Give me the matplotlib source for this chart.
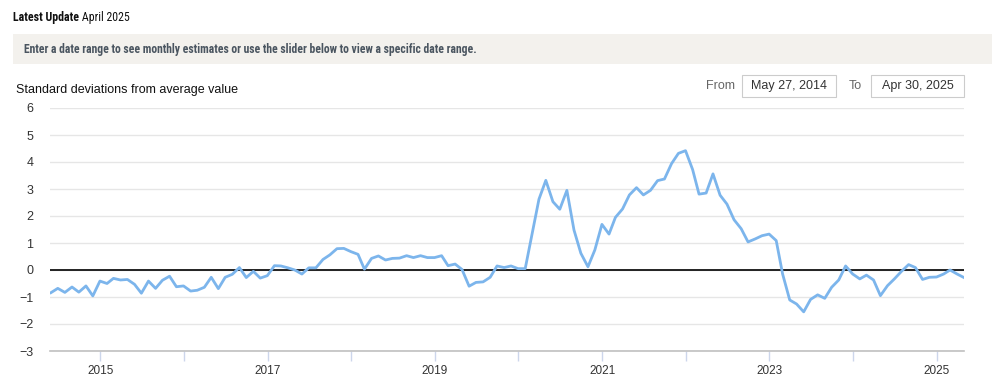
import matplotlib
matplotlib.use("Agg")
import matplotlib.pyplot as plt
from matplotlib.patches import Rectangle
from matplotlib import font_manager
import pandas as pd

# ---------------- data ----------------
dates = pd.date_range("2014-05-31", "2025-04-30", freq="ME")
values = [
    -0.84, -0.68, -0.83, -0.63, -0.82, -0.59, -0.96, -0.41, -0.50, -0.31,
    -0.37, -0.35, -0.53, -0.86, -0.41, -0.68, -0.38, -0.23, -0.62, -0.59,
    -0.78, -0.75, -0.64, -0.27, -0.69, -0.27, -0.16, 0.09, -0.28, -0.05,
    -0.30, -0.21, 0.16, 0.15, 0.08, 0.00, -0.15, 0.08, 0.08, 0.39,
    0.56, 0.79, 0.80, 0.68, 0.58, 0.03, 0.43, 0.52, 0.37, 0.43,
    0.44, 0.53, 0.46, 0.53, 0.46, 0.46, 0.53, 0.16, 0.22, 0.02,
    -0.60, -0.46, -0.44, -0.27, 0.15, 0.09, 0.15, 0.05, 0.05, 1.30,
    2.62, 3.32, 2.53, 2.25, 2.95, 1.48, 0.62, 0.12, 0.74, 1.69,
    1.33, 1.95, 2.26, 2.78, 3.05, 2.78, 2.95, 3.31, 3.37, 3.94,
    4.32, 4.42, 3.72, 2.81, 2.85, 3.56, 2.77, 2.44, 1.86, 1.53,
    1.04, 1.15, 1.27, 1.33, 1.09, -0.15, -1.11, -1.26, -1.55, -1.09,
    -0.92, -1.05, -0.64, -0.37, 0.15, -0.15, -0.33, -0.19, -0.37, -0.95,
    -0.58, -0.33, -0.05, 0.20, 0.09, -0.35, -0.27, -0.26, -0.15, 0.00,
    -0.15, -0.28,
]
y_ticks = [-3, -2, -1, 0, 1, 2, 3, 4, 5, 6]
x_tick_years = list(range(2015, 2026))
x_label_years = [2015, 2017, 2019, 2021, 2023, 2025]
range_from = "May 27, 2014"
range_to = "Apr 30, 2025"

# ---------------- fonts ----------------
avail = {f.name for f in font_manager.fontManager.ttflist}
def pick(cands):
    for c in cands:
        if c in avail:
            return c
    return "DejaVu Sans"
SANS = pick(["Liberation Sans", "Arial", "DejaVu Sans"])
COND = pick(["Roboto Condensed", "Liberation Sans Narrow", "Open Sans Condensed", "Roboto", "Liberation Sans"])
plt.rcParams["font.family"] = [SANS, "DejaVu Sans"]

W, H = 992, 384
fig = plt.figure(figsize=(W / 100, H / 100), dpi=100)

def fx(x):
    return x / W
def fy(y):
    return 1 - y / H

# axes
ax = fig.add_axes([fx(50), fy(351), fx(964) - fx(50), fy(108) - fy(351)])
ax.plot(dates, values, color="#7cb5ec", lw=2, zorder=3, solid_joinstyle="round")
ax.axhline(0, color="black", lw=1.2, zorder=2)
ax.set_ylim(-3, 6)
ax.set_xlim(pd.Timestamp("2014-05-27"), pd.Timestamp("2025-04-30"))
ax.set_yticks(y_ticks)
ax.yaxis.grid(True, color="#e6e6e6", lw=1)
ax.set_axisbelow(True)
for s in ["top", "right", "left"]:
    ax.spines[s].set_visible(False)
ax.spines["bottom"].set_color("#c0c0c0")
ax.spines["bottom"].set_linewidth(1.2)
ax.tick_params(axis="y", length=0, labelsize=9, labelcolor="#333333", pad=12)
xt = [pd.Timestamp(f"{y}-01-01") for y in x_tick_years]
ax.set_xticks(xt)
ax.set_xticklabels([str(y) if y in x_label_years else "" for y in x_tick_years])
ax.tick_params(axis="x", length=7, width=1, color="#ccd6eb", labelsize=8.5,
               labelcolor="#333333", pad=3)

# header
t1 = fig.text(fx(13), fy(17), "Latest Update", family=COND, weight="bold",
              fontsize=8.6, color="#111111", va="center", ha="left")
ax.annotate(" April 2025", xy=(1, 0.5), xycoords=t1, va="center", ha="left",
            family=COND, fontsize=8.6, color="#111111", annotation_clip=False)

# band
fig.patches.append(Rectangle((fx(13), fy(64)), 1 - fx(13), fy(34) - fy(64),
                             transform=fig.transFigure, facecolor="#f3f1ed",
                             edgecolor="none", zorder=0))
fig.text(fx(24), fy(49.5),
         "Enter a date range to see monthly estimates or use the slider below to view a specific date range.",
         family=COND, weight="bold", fontsize=8.4, color="#4a5560", va="center", ha="left")

# y title
fig.text(fx(16), fy(90), "Standard deviations from average value", fontsize=9,
         color="#111111", va="center", ha="left")

# range boxes
fig.text(fx(735), fy(86), "From", fontsize=9, color="#666666", va="center", ha="right")
fig.patches.append(Rectangle((fx(742), fy(97)), fx(836) - fx(742), fy(75) - fy(97),
                             transform=fig.transFigure, facecolor="white",
                             edgecolor="#cccccc", lw=0.8))
fig.text(fx(789), fy(86), range_from, fontsize=9, color="#333333", va="center", ha="center")
fig.text(fx(862), fy(86), "To", fontsize=9, color="#666666", va="center", ha="right")
fig.patches.append(Rectangle((fx(871), fy(97)), fx(964) - fx(871), fy(75) - fy(97),
                             transform=fig.transFigure, facecolor="white",
                             edgecolor="#cccccc", lw=0.8))
fig.text(fx(917.5), fy(86), range_to, fontsize=9, color="#333333", va="center", ha="center")

fig.savefig("out.png", dpi=100)
